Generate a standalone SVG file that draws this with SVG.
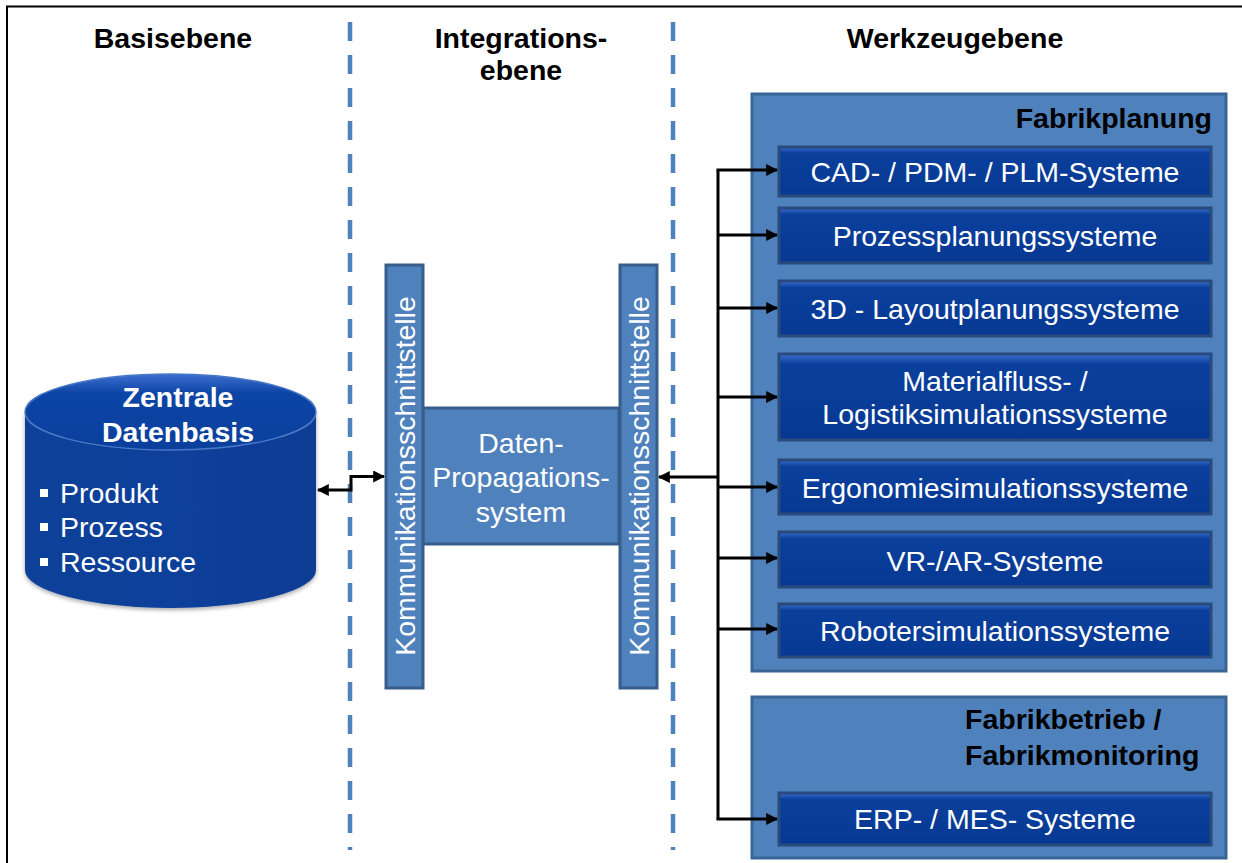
<svg xmlns="http://www.w3.org/2000/svg" width="1242" height="863" viewBox="0 0 1242 863">
  <defs>
    <linearGradient id="sysFill" x1="0" y1="0" x2="0" y2="1">
      <stop offset="0" stop-color="#3a6fd0"/>
      <stop offset="0.12" stop-color="#0a3f9c"/>
      <stop offset="1" stop-color="#063993"/>
    </linearGradient>
    <linearGradient id="cylBody" x1="0" y1="0" x2="1" y2="0">
      <stop offset="0" stop-color="#0b3f98"/>
      <stop offset="0.5" stop-color="#0a3f9a"/>
      <stop offset="1" stop-color="#0b3d94"/>
    </linearGradient>
    <linearGradient id="cylTop" x1="0" y1="0" x2="0" y2="1">
      <stop offset="0" stop-color="#3c6fcf"/>
      <stop offset="0.25" stop-color="#0d45a6"/>
      <stop offset="1" stop-color="#0a3f9c"/>
    </linearGradient>
    <marker id="arrow" viewBox="0 0 10 10" refX="9" refY="5" markerWidth="4" markerHeight="4" markerUnits="strokeWidth" orient="auto-start-reverse">
      <path d="M0,0 L10,5 L0,10 z" fill="#000"/>
    </marker>
    <filter id="shadow" x="-5%" y="-5%" width="110%" height="115%">
      <feDropShadow dx="0" dy="2" stdDeviation="2" flood-color="#000" flood-opacity="0.35"/>
    </filter>
  </defs>
  <style>
    .hdr { font-family: "Liberation Sans", Arial, sans-serif; font-weight: bold; font-size: 28.5px; fill: #000; }
    .wt { font-family: "Liberation Sans", Arial, sans-serif; font-size: 28.5px; fill: #fff; }
    .wtb { font-family: "Liberation Sans", Arial, sans-serif; font-weight: bold; font-size: 28.5px; fill: #fff; }
    .lane { stroke: #4f81bd; stroke-width: 4.5; stroke-dasharray: 19 14; fill: none; }
    .panel { fill: #4f81bd; stroke: #3a6696; stroke-width: 3; }
    .sys { fill: url(#sysFill); stroke: #2a4a7c; stroke-width: 3; }
    .bar { fill: #4f81bd; stroke: #385d8a; stroke-width: 3; }
    .conn { stroke: #000; stroke-width: 3; fill: none; }
  </style>

  <!-- frame -->
  <path d="M7,863 V6.5 H1242" fill="none" stroke="#000" stroke-width="2"/>

  <!-- lane separators -->
  <g id="lanes">
    <line class="lane" x1="350" y1="22" x2="350" y2="850"/>
    <line class="lane" x1="673" y1="22" x2="673" y2="850"/>
  </g>

  <!-- lane headers -->
  <g id="headers">
    <text class="hdr" x="173" y="48" text-anchor="middle">Basisebene</text>
    <text class="hdr" x="521" y="48" text-anchor="middle">Integrations-</text>
    <text class="hdr" x="521" y="80" text-anchor="middle">ebene</text>
    <text class="hdr" x="955" y="48" text-anchor="middle">Werkzeugebene</text>
  </g>

  <!-- central database -->
  <g id="datenbasis">
    <path d="M25,412 V570 A145.5,38 0 0 0 316,570 V412 Z" fill="url(#cylBody)" filter="url(#shadow)"/>
    <ellipse cx="170.5" cy="412" rx="145.5" ry="38" fill="url(#cylTop)" stroke="#4a78c6" stroke-width="1.5"/>
    <text class="wtb" x="178" y="407" text-anchor="middle">Zentrale</text>
    <text class="wtb" x="178" y="442" text-anchor="middle">Datenbasis</text>
    <rect x="40" y="489" width="8" height="8" fill="#fff"/>
    <text class="wt" x="60" y="503">Produkt</text>
    <rect x="40" y="523" width="8" height="8" fill="#fff"/>
    <text class="wt" x="60" y="537">Prozess</text>
    <rect x="40" y="558" width="8" height="8" fill="#fff"/>
    <text class="wt" x="60" y="572">Ressource</text>
  </g>

  <!-- integration layer -->
  <g id="propagation">
    <rect class="bar" x="423" y="408" width="196" height="136"/>
    <text class="wt" x="521" y="453" text-anchor="middle">Daten-</text>
    <text class="wt" x="521" y="487" text-anchor="middle">Propagations-</text>
    <text class="wt" x="521" y="522" text-anchor="middle">system</text>
  </g>
  <g id="ks-links">
    <rect class="bar" x="386" y="265" width="37" height="423"/>
    <text class="wt" transform="translate(414.5,476) rotate(-90)" text-anchor="middle">Kommunikationsschnittstelle</text>
  </g>
  <g id="ks-rechts">
    <rect class="bar" x="620" y="265" width="37" height="423"/>
    <text class="wt" transform="translate(648.5,476) rotate(-90)" text-anchor="middle">Kommunikationsschnittstelle</text>
  </g>

  <!-- tool layer: factory planning -->
  <g id="fabrikplanung">
    <rect class="panel" x="752" y="94" width="474" height="577"/>
    <text class="hdr" x="1212" y="128" text-anchor="end">Fabrikplanung</text>
  </g>
  <g id="cad">
    <rect class="sys" x="779" y="147" width="432" height="49"/>
    <text class="wt" x="995" y="182" text-anchor="middle">CAD- / PDM- / PLM-Systeme</text>
  </g>
  <g id="prozessplanung">
    <rect class="sys" x="779" y="208" width="432" height="55"/>
    <text class="wt" x="995" y="246" text-anchor="middle">Prozessplanungssysteme</text>
  </g>
  <g id="layoutplanung">
    <rect class="sys" x="779" y="281" width="432" height="55"/>
    <text class="wt" x="995" y="319" text-anchor="middle">3D - Layoutplanungssysteme</text>
  </g>
  <g id="materialfluss">
    <rect class="sys" x="779" y="354" width="432" height="86"/>
    <text class="wt" x="995" y="391" text-anchor="middle">Materialfluss- /</text>
    <text class="wt" x="995" y="424" text-anchor="middle">Logistiksimulationssysteme</text>
  </g>
  <g id="ergonomie">
    <rect class="sys" x="779" y="460" width="432" height="54"/>
    <text class="wt" x="995" y="498" text-anchor="middle">Ergonomiesimulationssysteme</text>
  </g>
  <g id="vrar">
    <rect class="sys" x="779" y="532" width="432" height="55"/>
    <text class="wt" x="995" y="571" text-anchor="middle">VR-/AR-Systeme</text>
  </g>
  <g id="robotersimulation">
    <rect class="sys" x="779" y="604" width="432" height="53"/>
    <text class="wt" x="995" y="641" text-anchor="middle">Robotersimulationssysteme</text>
  </g>

  <!-- tool layer: factory operation -->
  <g id="fabrikbetrieb">
    <rect class="panel" x="752" y="697" width="474" height="161"/>
    <text class="hdr" x="965" y="729">Fabrikbetrieb /</text>
    <text class="hdr" x="965" y="765">Fabrikmonitoring</text>
  </g>
  <g id="erp">
    <rect class="sys" x="779" y="793" width="432" height="52"/>
    <text class="wt" x="995" y="829" text-anchor="middle">ERP- / MES- Systeme</text>
  </g>

  <!-- connectors -->
  <g id="connectors">
    <path class="conn" d="M318,490 H351 V476.5 H384" marker-start="url(#arrow)" marker-end="url(#arrow)"/>
    <path class="conn" d="M718,477 H659" marker-end="url(#arrow)"/>
    <path class="conn" d="M718,170 V819"/>
    <path class="conn" d="M716.5,170 H777" marker-end="url(#arrow)"/>
    <path class="conn" d="M718,235 H777" marker-end="url(#arrow)"/>
    <path class="conn" d="M718,308 H777" marker-end="url(#arrow)"/>
    <path class="conn" d="M718,397 H777" marker-end="url(#arrow)"/>
    <path class="conn" d="M718,487 H777" marker-end="url(#arrow)"/>
    <path class="conn" d="M718,558 H777" marker-end="url(#arrow)"/>
    <path class="conn" d="M718,629 H777" marker-end="url(#arrow)"/>
    <path class="conn" d="M716.5,819 H777" marker-end="url(#arrow)"/>
  </g>
</svg>
